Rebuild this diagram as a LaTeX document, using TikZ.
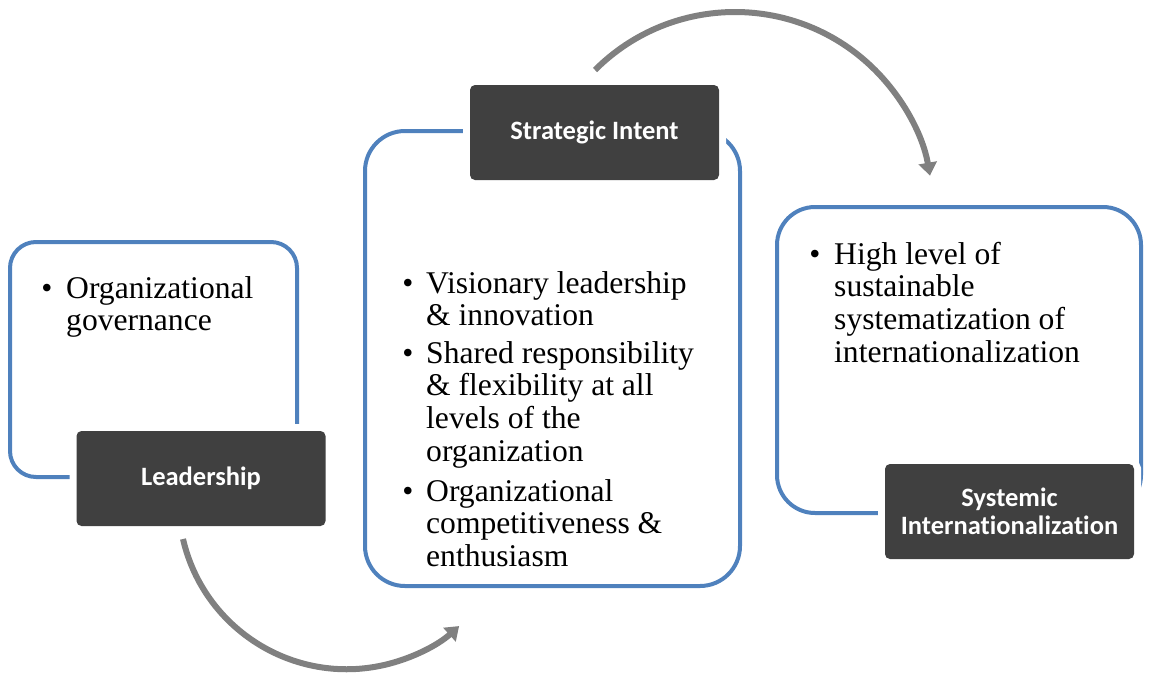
\documentclass[tikz,border=0pt]{standalone}
\usepackage{fontspec}
\setmainfont{Liberation Serif}
\newfontfamily\tagfont{Carlito}[Ligatures=NoCommon]
\usetikzlibrary{arrows.meta}

\definecolor{panelblue}{HTML}{4F81BD}
\definecolor{tagdark}{HTML}{404040}
\definecolor{arcgray}{HTML}{808080}

\tikzset{
  panel/.style={draw=panelblue, line width=4pt, rounded corners=#1,
    inner sep=0pt, outer sep=0pt},
  tag/.style={fill=tagdark, rounded corners=5pt, minimum width=249pt,
    minimum height=95pt, inner sep=0pt, text=white, align=center,
    font=\tagfont\bfseries\fontsize{26.5}{28}\selectfont,
    preaction={draw=white, line width=14pt}},
  bodytext/.style={anchor=base west, inner sep=0pt,
    font=\fontsize{31.6}{32.7}\selectfont},
  bulletmark/.style={anchor=base, inner sep=0pt,
    font=\fontsize{31.6}{32.7}\selectfont},
  arcarrow/.style={draw=arcgray, line width=6pt,
    -{Triangle[width=18pt,length=13pt]}}
}
\newcommand{\itemtext}[1]{\parbox[t]{330pt}{\raggedright #1}}

\begin{document}
\begin{tikzpicture}[x=1pt,y=1pt]
  \useasboundingbox (0,0) rectangle (1151,-673);

  % rounded outline panels
  \node[panel=26pt, minimum width=287pt, minimum height=235pt] (leadpanel) at (153.5,-359.5) {};
  \node[panel=40pt, minimum width=375pt, minimum height=455pt] (intentpanel) at (552.5,-358.5) {};
  \node[panel=38pt, minimum width=364pt, minimum height=306pt] (syspanel) at (959,-360) {};

  % dark title tags
  \node[tag] (leadtag) at (201,-478.5) {Leadership};
  \node[tag] (intenttag) at (594.5,-132.5) {Strategic Intent};
  \node[tag] (systag) at (1009.5,-511.5) {Systemic\\Internationalization};

  % panel 1 text
  \node[bulletmark] (b1) at (47,-298) {•};
  \node[bodytext] (t1) at (66,-298) {\itemtext{Organizational\\governance}};

  % panel 2 text
  \node[bulletmark] (b2a) at (408,-293) {•};
  \node[bodytext] (t2a) at (426,-293) {\itemtext{Visionary leadership\\\& innovation}};
  \node[bulletmark] (b2b) at (408,-363) {•};
  \node[bodytext] (t2b) at (426,-363) {\itemtext{Shared responsibility\\\& flexibility at all\\levels of the\\organization}};
  \node[bulletmark] (b2c) at (408,-501) {•};
  \node[bodytext] (t2c) at (426,-501) {\itemtext{Organizational\\competitiveness \&\\enthusiasm}};

  % panel 3 text
  \node[bulletmark] (b3) at (815,-264) {•};
  \node[bodytext] (t3) at (834,-264) {\itemtext{High level of\\sustainable\\systematization of\\internationalization}};

  % curved flow arrows
  \coordinate (lowstart) at (183,-539);
  \coordinate (highstart) at (595,-70);
  \draw[arcarrow] (lowstart) arc[start angle=193, end angle=312, radius=168pt];
  \draw[arcarrow] (highstart) arc[start angle=135, end angle=10, radius=198pt];
\end{tikzpicture}
\end{document}
